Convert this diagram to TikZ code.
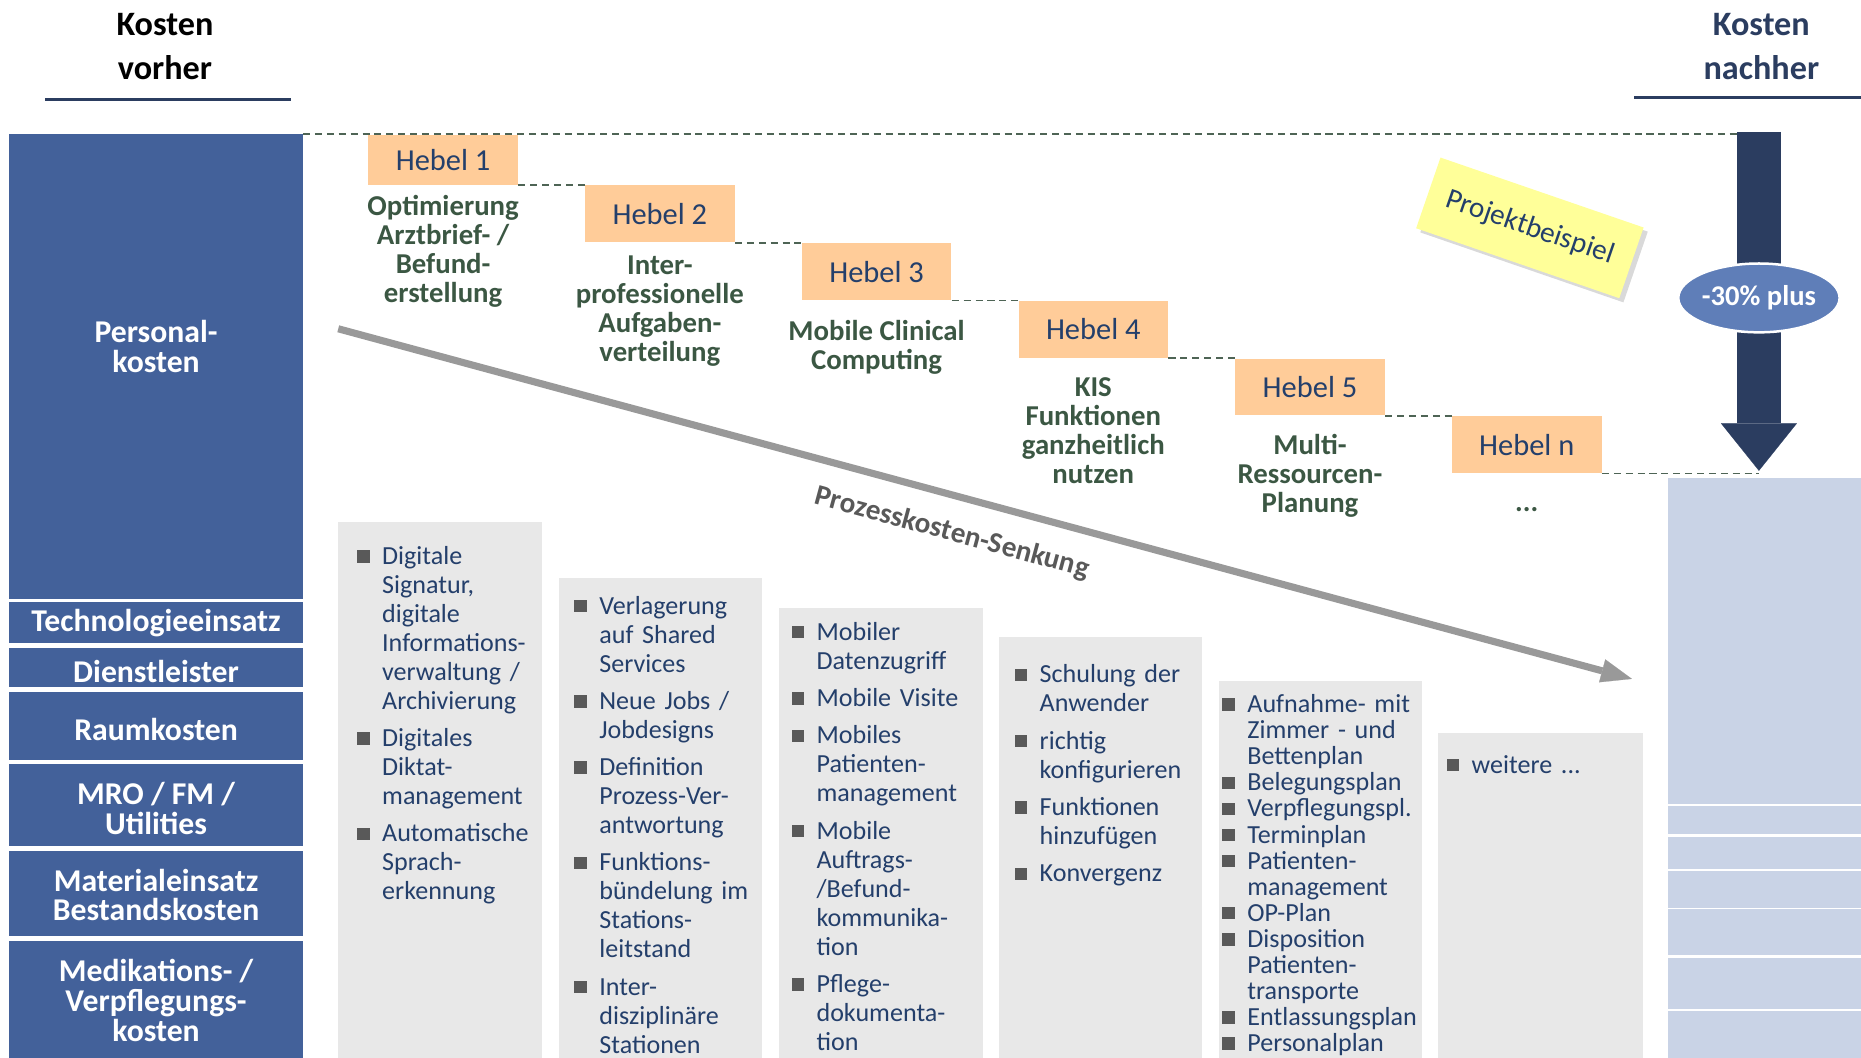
\documentclass[tikz,border=0pt]{standalone}
\usepackage{fontspec}
\setmainfont{Carlito}
\usetikzlibrary{arrows.meta,positioning,fit,shapes.geometric,shadows}
\definecolor{kblue}{HTML}{43619A}
\definecolor{kpale}{HTML}{C9D3E6}
\definecolor{knavy}{HTML}{2B3D60}
\definecolor{kink}{HTML}{243F6B}
\definecolor{kpeach}{HTML}{FFCC99}
\definecolor{kgreen}{HTML}{3B5743}
\definecolor{kdash}{HTML}{4E6455}
\definecolor{kgray}{HTML}{E8E8E8}
\definecolor{kbul}{HTML}{595959}
\definecolor{karrow}{HTML}{999999}
\definecolor{kellipse}{HTML}{5F7EB8}
\definecolor{kyellow}{HTML}{FFFF99}
\newlength{\itemgap}
\newcommand{\bitem}[1]{\par\hangindent=4.2mm\hangafter=1\noindent
  \makebox[4.2mm][l]{\textcolor{kbul}{\rule[0.3mm]{2.1mm}{2.1mm}}}#1\par\vskip\itemgap}
\tikzset{
  hdr/.style={inner sep=0,align=center,font=\fontsize{16.4}{21}\selectfont\bfseries},
  hdrline/.style={draw=knavy,line width=1.2pt},
  costbox/.style={fill=kblue,inner sep=0},
  costlbl/.style={inner sep=0,text=white,align=center,font=\fontsize{15.2}{14.2}\selectfont\bfseries},
  afterbox/.style={fill=kpale,inner sep=0},
  hebel/.style={fill=kpeach,text=kink,inner sep=0,minimum width=25.2mm,font=\fontsize{14.6}{16}\selectfont},
  hlbl/.style={text=kgreen,align=center,inner sep=0,font=\fontsize{13.8}{13.9}\selectfont\bfseries},
  listbox/.style={fill=kgray,inner sep=0},
  listtxt/.style={text=kink,inner sep=0,text width=36mm,font=\fontsize{12.5}{13.9}\selectfont\setlength{\itemgap}{1.4mm}},
  listtight/.style={listtxt,font=\fontsize{12.5}{12.5}\selectfont\setlength{\itemgap}{0pt}},
  stepdash/.style={draw=kdash,line width=0.85pt,dash pattern=on 3.4pt off 2.3pt},
  bigarr/.style={draw=knavy,line width=7.4mm,-{Triangle[width=12.8mm,length=8mm,line width=0.1pt]},shorten >=1.2mm},
  procarr/.style={draw=karrow,line width=1.2mm,-{Triangle[width=4mm,length=5.2mm,line width=0.1pt]}},
  senk/.style={text=kbul,inner sep=0,font=\fontsize{14}{14}\selectfont\bfseries},
  pct/.style={ellipse,fill=kellipse,draw=white,line width=1.2pt,text=white,minimum width=25mm,minimum height=11.6mm,inner sep=0,font=\fontsize{13.7}{14}\selectfont\bfseries},
  sticky/.style={fill=kyellow,minimum width=36.2mm,minimum height=12.6mm,inner sep=0,text=kink,font=\fontsize{14}{14}\selectfont,
    drop shadow={shadow xshift=0.7mm,shadow yshift=-0.7mm,opacity=0.3}},
}
\begin{document}
\begin{tikzpicture}[x=0.2mm,y=-0.2mm]
  \useasboundingbox (0,0) rectangle (1568,891);

  % Kopfzeilen
  \node[hdr] (kv) at (139,39) {Kosten\\vorher};
  \node[hdr,text=knavy] (kn) at (1484,39) {Kosten\\nachher};
  \draw[hdrline] (38,84) -- (245,84);
  \draw[hdrline] (1377,82) -- (1568,82);

  % Kosten vorher
  \node[costbox,fit={(8,113) (255,505)}] (pk) {};
  \node[costbox,fit={(8,507) (255,542)}] (tech) {};
  \node[costbox,fit={(8,546) (255,579)}] (dienst) {};
  \node[costbox,fit={(8,583) (255,640)}] (raum) {};
  \node[costbox,fit={(8,644) (255,713)}] (mro) {};
  \node[costbox,fit={(8,717) (255,789)}] (mat) {};
  \node[costbox,fit={(8,793) (255,891)}] (med) {};
  \node[costlbl] (pklbl) at (131.5,292) {Personal-\\kosten};
  \node[costlbl] (techlbl) at (131.5,525) {Technologieeinsatz};
  \node[costlbl] (dienstlbl) at (131.5,566) {Dienstleister};
  \node[costlbl] (raumlbl) at (131.5,615) {Raumkosten};
  \node[costlbl] (mrolbl) at (131.5,681) {MRO / FM /\\Utilities};
  \node[costlbl] (matlbl) at (131.5,754) {Materialeinsatz\\Bestandskosten};
  \node[costlbl] (medlbl) at (131.5,843) {Medikations- /\\Verpflegungs-\\kosten};

  % Kosten nachher
  \foreach \t/\b [count=\k] in {403/677,679/703,705/732,734/765,766/805,807/850,852/891}
    \node[afterbox,fit={(1405,\t) (1568,\b)}] (a\k) {};

  % Hebel-Treppe
  \foreach \lbl [count=\k] in {1,2,3,4,5,n} {
    \pgfmathsetmacro{\hx}{310+182.6*(\k-1)}
    \pgfmathsetmacro{\hy}{156+48.6*(\k-1)}
    \ifnum\k=1 \def\hh{8.4mm}\else\def\hh{9.6mm}\fi
    \node[hebel,minimum height=\hh,anchor=south west] (h\k) at (\hx,\hy) {Hebel \lbl};
  }
  \node[hlbl,below=1.6mm of h1] (l1) {Optimierung\\Arztbrief- /\\Befund-\\erstellung};
  \node[hlbl,below=2.2mm of h2] (l2) {Inter-\\professionelle\\Aufgaben-\\verteilung};
  \node[hlbl,below=3.3mm of h3] (l3) {Mobile Clinical\\Computing};
  \node[hlbl,below=3.2mm of h4] (l4) {KIS\\Funktionen\\ganzheitlich\\nutzen};
  \node[hlbl,below=3mm of h5] (l5) {Multi-\\Ressourcen-\\Planung};
  \node[hlbl,below=5.6mm of h6] (l6) {...};

  \coordinate (atop) at (1482,111);
  \draw[stepdash] (pk.north east) -- (pk.north east -| atop);
  \foreach \k [evaluate=\k as \n using int(\k+1)] in {1,...,5}
    \draw[stepdash] (h\k.south east) -- (h\k.south east -| h\n.west);
  \draw[stepdash] (h6.south east) -- (h6.south east -| atop);

  % -30%
  \draw[bigarr] (atop) -- (atop |- a1.north);
  \node[pct] (pct) at (1482,251) {-30\% plus};
  \node[sticky,rotate=-19] (note) at (1289,192) {Projektbeispiel};

  % Prozesskosten
  \coordinate (ps) at (285,277);
  \coordinate (pe) at (1375,572);
  \draw[procarr] (ps) -- (pe) node[senk,pos=0.482,sloped,below=3.5mm] (senk) {Prozesskosten-Senkung};

  % Massnahmen
  \node[listbox,fit={(285,440) (457,891)}] (b1) {};
  \node[listbox,fit={(471,487) (642,891)}] (b2) {};
  \node[listbox,fit={(656,512) (828,891)}] (b3) {};
  \node[listbox,fit={(842,537) (1013,891)}] (b4) {};
  \node[listbox,fit={(1027,574) (1198,891)}] (b5) {};
  \node[listbox,fit={(1212,618) (1384,891)}] (b6) {};

  \node[listtxt,below right=2.2mm and 3.2mm of b1.north west] (t1) {%
    \bitem{Digitale\newline Signatur,\newline digitale\newline Informations-\newline verwaltung /\newline Archivierung}%
    \bitem{Digitales\newline Diktat-\newline management}%
    \bitem{Automatische\newline Sprach-\newline erkennung}};
  \node[listtxt,below right=1.2mm and 2.6mm of b2.north west] (t2) {%
    \bitem{Verlagerung\newline auf Shared\newline Services}%
    \bitem{Neue Jobs /\newline Jobdesigns}%
    \bitem{Definition\newline Prozess-Ver-\newline antwortung}%
    \bitem{Funktions-\newline bündelung im\newline Stations-\newline leitstand}%
    \bitem{Inter-\newline disziplinäre\newline Stationen}};
  \node[listtxt,below right=0.6mm and 2.2mm of b3.north west] (t3) {%
    \bitem{Mobiler\newline Datenzugriff}%
    \bitem{Mobile Visite}%
    \bitem{Mobiles\newline Patienten-\newline management}%
    \bitem{Mobile\newline Auftrags-\newline /Befund-\newline kommunika-\newline tion}%
    \bitem{Pflege-\newline dokumenta-\newline tion}};
  \node[listtxt,below right=2.8mm and 2.6mm of b4.north west] (t4) {%
    \bitem{Schulung der\newline Anwender}%
    \bitem{richtig\newline konfigurieren}%
    \bitem{Funktionen\newline hinzufügen}%
    \bitem{Konvergenz}};
  \node[listtight,below right=0.9mm and 0.6mm of b5.north west] (t5) {%
    \bitem{Aufnahme- mit\newline Zimmer - und\newline Bettenplan}%
    \bitem{Belegungsplan}%
    \bitem{Verpflegungspl.}%
    \bitem{Terminplan}%
    \bitem{Patienten-\newline management}%
    \bitem{OP-Plan}%
    \bitem{Disposition\newline Patienten-\newline transporte}%
    \bitem{Entlassungsplan}%
    \bitem{Personalplan}};
  \node[listtxt,below right=1.8mm and 1.4mm of b6.north west] (t6) {%
    \bitem{weitere ...}};
\end{tikzpicture}
\end{document}
